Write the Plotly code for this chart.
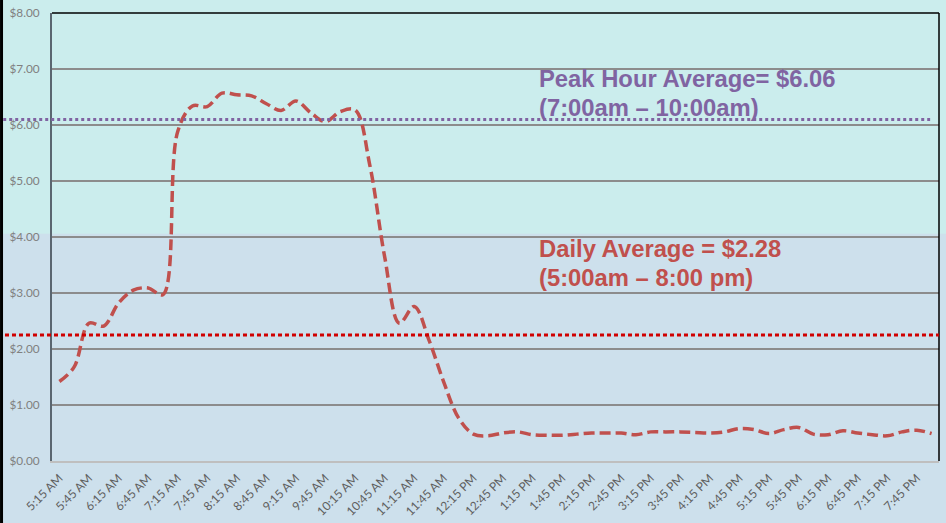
import plotly.graph_objects as go

times = ["5:15 AM","5:30 AM","5:45 AM","6:00 AM","6:15 AM","6:30 AM","6:45 AM","7:00 AM",
         "7:15 AM","7:30 AM","7:45 AM","8:00 AM","8:15 AM","8:30 AM","8:45 AM","9:00 AM",
         "9:15 AM","9:30 AM","9:45 AM","10:00 AM","10:15 AM","10:30 AM","10:45 AM","11:00 AM",
         "11:15 AM","11:30 AM","11:45 AM","12:00 PM","12:15 PM","12:30 PM","12:45 PM","1:00 PM",
         "1:15 PM","1:30 PM","1:45 PM","2:00 PM","2:15 PM","2:30 PM","2:45 PM","3:00 PM",
         "3:15 PM","3:30 PM","3:45 PM","4:00 PM","4:15 PM","4:30 PM","4:45 PM","5:00 PM",
         "5:15 PM","5:30 PM","5:45 PM","6:00 PM","6:15 PM","6:30 PM","6:45 PM","7:00 PM",
         "7:15 PM","7:30 PM","7:45 PM","8:00 PM"]

toll = [1.42, 1.68, 2.46, 2.41, 2.82, 3.05, 3.09, 2.97,
        5.88, 6.34, 6.33, 6.57, 6.54, 6.52, 6.38, 6.26,
        6.43, 6.22, 6.06, 6.24, 6.27, 5.28, 3.65, 2.46,
        2.76, 2.16, 1.41, 0.77, 0.48, 0.45, 0.50, 0.52,
        0.47, 0.46, 0.46, 0.48, 0.50, 0.50, 0.50, 0.47,
        0.52, 0.52, 0.52, 0.51, 0.50, 0.52, 0.58, 0.56,
        0.49, 0.56, 0.60, 0.48, 0.47, 0.54, 0.50, 0.47,
        0.45, 0.52, 0.55, 0.49]

x_tick_labels = times[::2]
y_tick_vals = [0, 1, 2, 3, 4, 5, 6, 7, 8]
y_tick_text = ["$0.00", "$1.00", "$2.00", "$3.00", "$4.00", "$5.00", "$6.00", "$7.00", "$8.00"]

peak_line = 6.1
daily_line = 2.25
peak_text = ["Peak Hour Average= $6.06", "(7:00am \u2013 10:00am)"]
daily_text = ["Daily Average = $2.28", "(5:00am \u2013 8:00 pm)"]

TOP_BG = "#CBEDED"
BOT_BG = "#CDE0EC"
PURPLE = "#8064A2"
RED = "#C0504D"

fig = go.Figure()
fig.add_trace(go.Scatter(
    x=times, y=toll, mode="lines",
    line=dict(color=RED, width=3.5, dash="11px,5px", shape="spline", smoothing=1.0),
    hoverinfo="skip", showlegend=False))

shapes = [
    # background split
    dict(type="rect", xref="paper", yref="paper", x0=-0.2, x1=1.2, y0=0.507, y1=1.2,
         fillcolor=TOP_BG, line=dict(width=0), layer="below"),
    # left black border of the image
    dict(type="line", xref="paper", yref="paper", x0=-0.0569, x1=-0.0569, y0=-0.3, y1=1.2,
         line=dict(color="black", width=3)),
    # top & right frame of plot
    dict(type="line", xref="paper", yref="paper", x0=0, x1=1, y0=1, y1=1,
         line=dict(color="black", width=1.5)),
    dict(type="line", xref="paper", yref="paper", x0=1, x1=1, y0=0, y1=1,
         line=dict(color="black", width=1.5)),
    # average lines
    dict(type="line", xref="paper", yref="y", x0=-0.055, x1=0.99, y0=peak_line, y1=peak_line,
         line=dict(color=PURPLE, width=3, dash="3px,3px")),
    dict(type="line", xref="paper", yref="y", x0=-0.053, x1=1.0, y0=daily_line, y1=daily_line,
         line=dict(color="#D00000", width=3, dash="4px,3px")),
]

ann_font = dict(family="Liberation Sans, Arial, sans-serif", size=23.8)
annotations = [
    dict(xref="paper", yref="paper", x=0.5468, y=0.853, xanchor="left", yanchor="middle",
         text="<b>%s</b>" % peak_text[0], showarrow=False, font=dict(ann_font, color=PURPLE)),
    dict(xref="paper", yref="paper", x=0.5468, y=0.790, xanchor="left", yanchor="middle",
         text="<b>%s</b>" % peak_text[1], showarrow=False, font=dict(ann_font, color=PURPLE)),
    dict(xref="paper", yref="paper", x=0.5468, y=0.4753, xanchor="left", yanchor="middle",
         text="<b>%s</b>" % daily_text[0], showarrow=False, font=dict(ann_font, color=RED)),
    dict(xref="paper", yref="paper", x=0.5468, y=0.410, xanchor="left", yanchor="middle",
         text="<b>%s</b>" % daily_text[1], showarrow=False, font=dict(ann_font, color=RED)),
]

fig.update_layout(
    width=946, height=523,
    margin=dict(l=52, r=7, t=13, b=62, autoexpand=False),
    paper_bgcolor=BOT_BG, plot_bgcolor="rgba(0,0,0,0)",
    shapes=shapes, annotations=annotations,
    showlegend=False,
    xaxis=dict(type="category", categoryorder="array", categoryarray=times,
               range=[-0.5, len(times) - 0.5], automargin=False,
               tickmode="array", tickvals=x_tick_labels, ticktext=x_tick_labels,
               tickangle=-45, tickfont=dict(family="Lato, sans-serif", size=12, color="#5f5f5f"),
               showgrid=False, zeroline=False,
               showline=True, linecolor="#BFBFBF", linewidth=1.5, ticks="",
               ticklabelstandoff=4),
    yaxis=dict(range=[0, 8], tickmode="array", tickvals=y_tick_vals, ticktext=y_tick_text,
               automargin=False,
               tickfont=dict(family="Lato, sans-serif", size=11.8, color="#808080"),
               showgrid=True, gridcolor="#8C8C8C", gridwidth=1.3, zeroline=False,
               showline=True, linecolor="#5a6670", linewidth=2, ticks="",
               ticklabelstandoff=8),
)

fig.write_html(
    "out.html",
    config={"displayModeBar": False, "staticPlot": True},
    post_script="document.body.style.margin='0';document.body.style.overflow='hidden';",
)
